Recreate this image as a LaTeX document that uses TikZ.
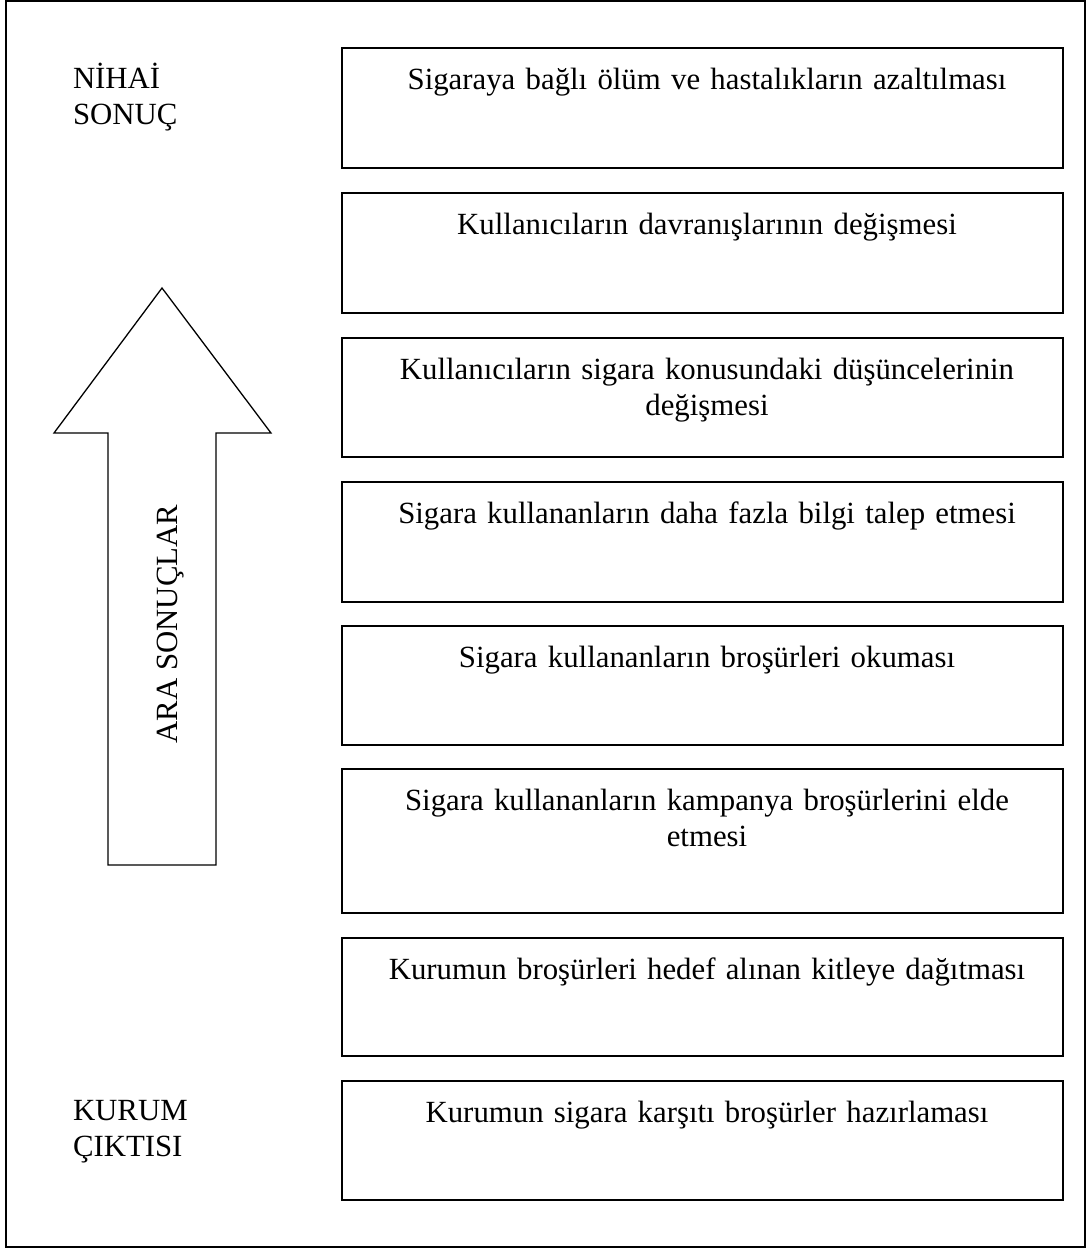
\documentclass[tikz,border=0pt]{standalone}
\usepackage{fontspec}
\setmainfont{Liberation Serif}
\begin{document}
\begin{tikzpicture}[x=0.5pt,y=-0.5pt,
  every node/.style={font=\fontsize{15.4pt}{18pt}\selectfont, inner sep=0pt, outer sep=0pt},
  frame/.style={draw, line width=1pt},
  stagebox/.style={draw, line width=0.9pt, minimum width=360.5pt, rectangle},
  stagetext/.style={anchor=base, text width=345pt, align=center},
  sidelabel/.style={anchor=base west, text width=90pt, align=left},
  bigarrow/.style={draw, line width=0.65pt, line join=miter}]
\useasboundingbox (0,0) rectangle (1087,1249);
\draw[frame] (6,1) rectangle (1085,1247);

% stage boxes
\node[stagebox, minimum height=60pt]   (s1) at (702.5,108)   {};
\node[stagebox, minimum height=60pt]   (s2) at (702.5,253)   {};
\node[stagebox, minimum height=59.5pt] (s3) at (702.5,397.5) {};
\node[stagebox, minimum height=60pt]   (s4) at (702.5,542)   {};
\node[stagebox, minimum height=59.5pt] (s5) at (702.5,685.5) {};
\node[stagebox, minimum height=72pt]   (s6) at (702.5,841)   {};
\node[stagebox, minimum height=59pt]   (s7) at (702.5,997)   {};
\node[stagebox, minimum height=59.5pt] (s8) at (702.5,1140.5){};

% stage texts
\node[stagetext] (t1) at (707,89)   {Sigaraya bağlı ölüm ve hastalıkların azaltılması};
\node[stagetext] (t2) at (707,234)  {Kullanıcıların davranışlarının değişmesi};
\node[stagetext] (t3) at (707,379)  {Kullanıcıların sigara konusundaki düşüncelerinin\\değişmesi};
\node[stagetext] (t4) at (707,523)  {Sigara kullananların daha fazla bilgi talep etmesi};
\node[stagetext] (t5) at (707,667)  {Sigara kullananların broşürleri okuması};
\node[stagetext] (t6) at (707,810)  {Sigara kullananların kampanya broşürlerini elde\\etmesi};
\node[stagetext] (t7) at (707,979)  {Kurumun broşürleri hedef alınan kitleye dağıtması};
\node[stagetext] (t8) at (707,1122) {Kurumun sigara karşıtı broşürler hazırlaması};

% side labels
\node[sidelabel] (top) at (73,88)   {NİHAİ\\SONUÇ};
\node[sidelabel] (bot) at (73,1120) {KURUM\\ÇIKTISI};

% big arrow
\draw[bigarrow] (162,288) -- (271,433) -- (216,433) -- (216,865) -- (108,865) -- (108,433) -- (54,433) -- cycle;
\node[rotate=90, anchor=base] (mid) at (177,624) {ARA SONUÇLAR};
\end{tikzpicture}
\end{document}
